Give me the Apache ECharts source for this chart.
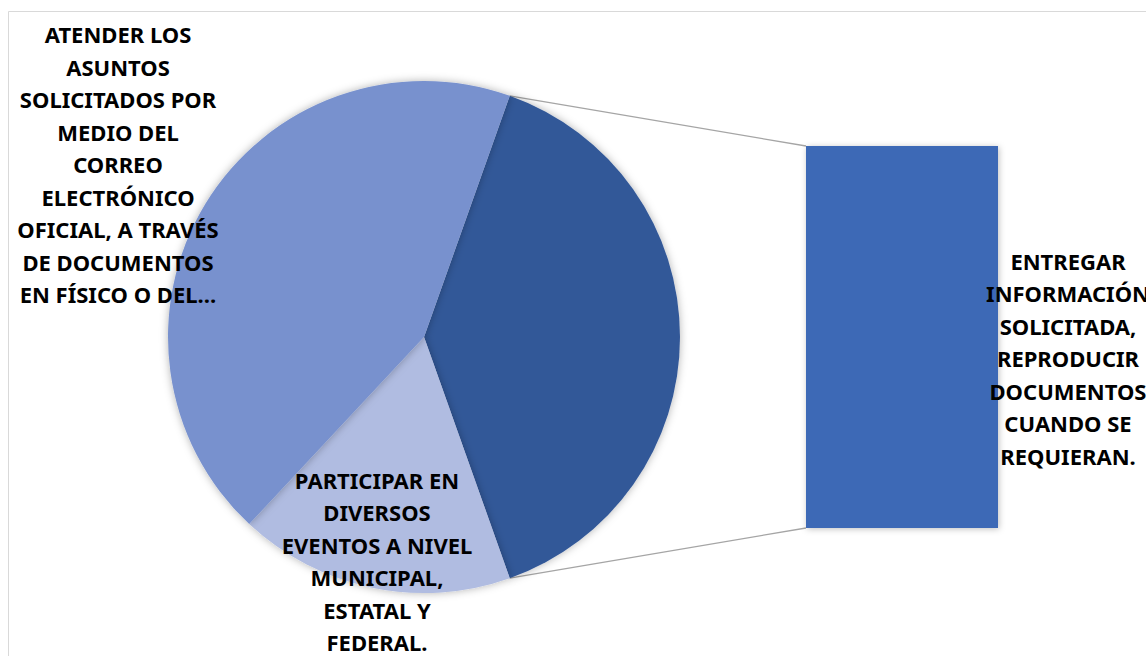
<!DOCTYPE html>
<html>
<head>
<meta charset="utf-8">
<script src="https://cdn.jsdelivr.net/npm/echarts@6/dist/echarts.min.js"></script>
<style>
html,body{margin:0;padding:0;background:#fff;}
#chart{width:1146px;height:656px;}
</style>
</head>
<body>
<div id="chart"></div>
<script>
// ---- data ----
const pieCategories = [
  'Otro',
  'PARTICIPAR EN\nDIVERSOS\nEVENTOS A NIVEL\nMUNICIPAL,\nESTATAL Y\nFEDERAL.',
  'ATENDER LOS\nASUNTOS\nSOLICITADOS POR\nMEDIO DEL\nCORREO\nELECTRÓNICO\nOFICIAL, A TRAVÉS\nDE DOCUMENTOS\nEN FÍSICO O DEL…'
];
const barCategories = ['ENTREGAR\nINFORMACIÓN\nSOLICITADA,\nREPRODUCIR\nDOCUMENTOS\nCUANDO SE\nREQUIERAN.'];
const barValues = [9];
const mainValues = [4, 10];

// ---- layout ----
const pieCenter = [424, 337];
const pieRadius = 256;
const grid = { left: 806, top: 146, width: 192, height: 382 };
const colors = { other: '#335898', participar: '#B0BCE1', atender: '#7891CE', bar: '#3E69B6' };
const labelPos = [null, [377, 561], [118, 164]];

const otherTotal = barValues.reduce((a, b) => a + b, 0);
const pieValues = [otherTotal].concat(mainValues);
const total = pieValues.reduce((a, b) => a + b, 0);
const halfOther = otherTotal / total * 360 / 2;

const font = { fontFamily: 'Noto Sans', fontWeight: 'bold', fontSize: 22, lineHeight: 32.5, color: '#000' };

const chart = echarts.init(document.getElementById('chart'), null, { renderer: 'svg' });

const sliceColors = [colors.other, colors.participar, colors.atender];

const rad = a => a * Math.PI / 180;
const topPt = [pieCenter[0] + pieRadius * Math.cos(rad(halfOther)), pieCenter[1] - pieRadius * Math.sin(rad(halfOther))];
const botPt = [pieCenter[0] + pieRadius * Math.cos(rad(halfOther)), pieCenter[1] + pieRadius * Math.sin(rad(halfOther))];

chart.setOption({
  animation: false,
  backgroundColor: '#fff',
  grid: Object.assign({}, grid, { containLabel: false }),
  xAxis: { type: 'category', data: barCategories, show: false },
  yAxis: { type: 'value', min: 0, max: otherTotal, show: false },
  graphic: [
    { type: 'rect', shape: { x: 8.5, y: 11.5, width: 1300, height: 800 }, style: { fill: 'none', stroke: '#D9D9D9', lineWidth: 1 }, z: -10 },
    { type: 'line', shape: { x1: topPt[0], y1: topPt[1], x2: grid.left, y2: grid.top }, style: { stroke: '#A5A5A5', lineWidth: 1.3 }, z: 1 },
    { type: 'line', shape: { x1: botPt[0], y1: botPt[1], x2: grid.left, y2: grid.top + grid.height }, style: { stroke: '#A5A5A5', lineWidth: 1.3 }, z: 1 }
  ],
  series: [
    {
      type: 'pie',
      center: pieCenter,
      radius: pieRadius,
      startAngle: halfOther,
      clockwise: true,
      silent: true,
      z: 3,
      data: pieValues.map((v, i) => ({
        name: pieCategories[i],
        value: v,
        itemStyle: { color: sliceColors[i] },
        label: { show: i !== 0 }
      })),
      itemStyle: { borderWidth: 0, shadowBlur: 8, shadowColor: 'rgba(0,0,0,0.3)' },
      label: Object.assign({ show: true, position: 'inside', formatter: '{b}', align: 'center', verticalAlign: 'middle' }, font),
      labelLine: { show: false },
      labelLayout: function (p) {
        const pos = labelPos[p.dataIndex];
        if (!pos) return {};
        return { x: pos[0], y: pos[1], align: 'center', verticalAlign: 'middle' };
      }
    },
    {
      type: 'bar',
      data: barValues,
      barWidth: '100%',
      silent: true,
      z: 3,
      itemStyle: { color: colors.bar, shadowBlur: 6, shadowColor: 'rgba(0,0,0,0.25)', shadowOffsetX: 1, shadowOffsetY: 1 },
      label: Object.assign({ show: true, position: [262, 212], formatter: '{b}', align: 'center', verticalAlign: 'middle' }, font)
    }
  ]
});
</script>
</body>
</html>
